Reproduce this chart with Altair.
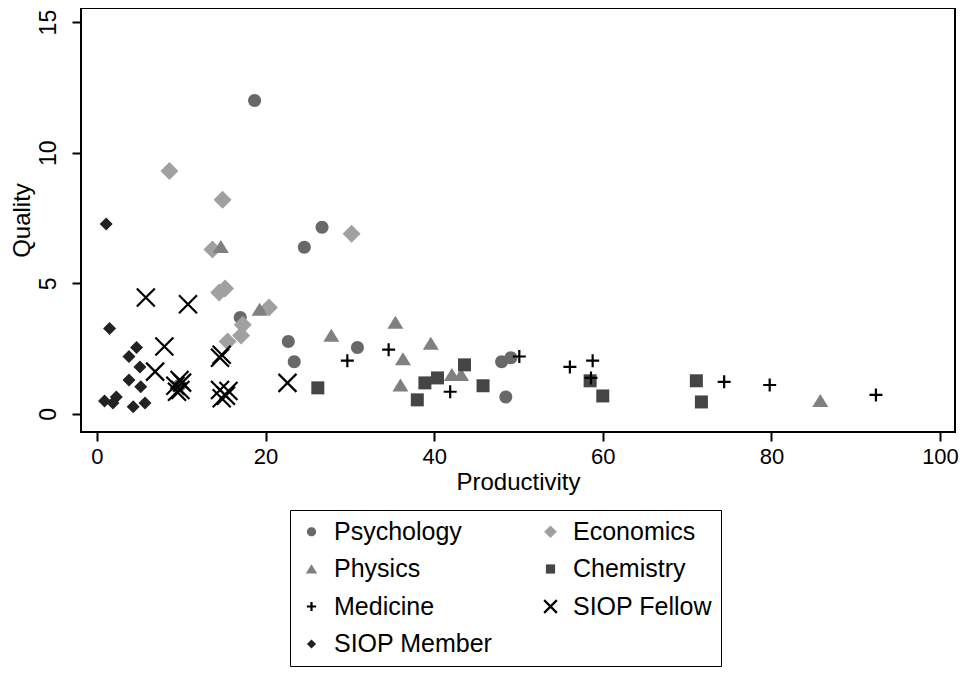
import altair as alt
import pandas as pd

groups = ["Psychology", "Economics", "Physics", "Chemistry", "Medicine", "SIOP Fellow", "SIOP Member"]
# legend is filled column by column: col 1 then col 2
legend_order = ["Psychology", "Physics", "Medicine", "SIOP Member", "Economics", "Chemistry", "SIOP Fellow"]

psych_x = [18.7, 26.7, 24.6, 17.0, 22.7, 23.4, 30.9, 48.0, 49.1, 48.5, 9.8]
psych_y = [12.0, 7.15, 6.38, 3.69, 2.77, 2.0, 2.54, 2.0, 2.15, 0.65, 1.1]

econ_x = [8.6, 14.9, 30.2, 13.7, 14.5, 15.2, 20.4, 17.3, 17.1, 15.5]
econ_y = [9.3, 8.2, 6.9, 6.3, 4.65, 4.8, 4.08, 3.42, 3.0, 2.77]

phys_x = [14.7, 19.3, 27.8, 35.4, 36.3, 39.6, 36.0, 42.1, 43.2, 85.8]
phys_y = [6.4, 4.0, 3.0, 3.5, 2.1, 2.7, 1.1, 1.5, 1.5, 0.5]

chem_x = [26.2, 38.0, 38.9, 40.4, 43.6, 45.8, 58.5, 60.0, 71.1, 71.7]
chem_y = [1.0, 0.54, 1.19, 1.38, 1.88, 1.08, 1.27, 0.69, 1.27, 0.46]

med_x = [29.7, 34.6, 41.9, 50.1, 56.1, 58.8, 58.6, 74.4, 79.8, 92.4]
med_y = [2.04, 2.46, 0.85, 2.2, 1.8, 2.04, 1.38, 1.23, 1.11, 0.73]

fellow_x = [5.8, 10.8, 8.0, 14.6, 14.8, 6.9, 9.8, 9.3, 9.9, 9.5, 10.1, 14.6, 15.6, 14.8, 15.3, 22.6]
fellow_y = [4.46, 4.2, 2.58, 2.15, 2.27, 1.62, 1.3, 1.08, 0.92, 0.85, 1.2, 0.92, 0.88, 0.6, 0.7, 1.19]

member_x = [1.1, 1.5, 4.7, 3.8, 5.1, 3.8, 5.2, 0.9, 2.3, 1.9, 4.3, 5.7]
member_y = [7.27, 3.27, 2.54, 2.2, 1.8, 1.3, 1.04, 0.5, 0.65, 0.42, 0.28, 0.42]

series = [
    ("Psychology", psych_x, psych_y),
    ("Economics", econ_x, econ_y),
    ("Physics", phys_x, phys_y),
    ("Chemistry", chem_x, chem_y),
    ("Medicine", med_x, med_y),
    ("SIOP Fellow", fellow_x, fellow_y),
    ("SIOP Member", member_x, member_y),
]

rows = []
for g, xs, ys in series:
    for x, y in zip(xs, ys):
        rows.append({"group": g, "Productivity": x, "Quality": y})
df = pd.DataFrame(rows)

shape_of = {
    "Psychology": "M-0.65,0A0.65,0.65,0,1,1,0.65,0A0.65,0.65,0,1,1,-0.65,0Z",
    "Economics": "M0,-0.9L0.9,0L0,0.9L-0.9,0Z",
    "Physics": "M0,-0.68L0.8,0.62L-0.8,0.62Z",
    "Chemistry": "M-0.65,-0.65H0.65V0.65H-0.65Z",
    "Medicine": "M-0.65,0H0.65M0,-0.65V0.65",
    "SIOP Fellow": "M-0.9,-0.9L0.9,0.9M-0.9,0.9L0.9,-0.9",
    "SIOP Member": "M0,-0.65L0.65,0L0,0.65L-0.65,0Z",
}
fill_of = {
    "Psychology": "#686868", "Economics": "#a0a0a0", "Physics": "#808080",
    "Chemistry": "#454545", "Medicine": "transparent", "SIOP Fellow": "transparent",
    "SIOP Member": "#222222",
}
stroke_of = {g: "transparent" for g in groups}
stroke_of["Medicine"] = "black"
stroke_of["SIOP Fellow"] = "black"

shapes = [shape_of[g] for g in legend_order]
fills = [fill_of[g] for g in legend_order]
strokes = [stroke_of[g] for g in legend_order]

FONT = "Liberation Sans"

legend = alt.Legend(
    title=None, orient="none", legendX=209, legendY=502, columns=2,
    labelFont=FONT, labelFontSize=25, labelColor="black",
    symbolSize=200, symbolStrokeWidth=2.2, labelOffset=10,
    rowPadding=11.5, columnPadding=45, padding=9,
    strokeColor="black", labelLimit=300,
)

chart = alt.Chart(df).mark_point(size=400, opacity=1, strokeWidth=2.2).encode(
    x=alt.X("Productivity:Q",
            scale=alt.Scale(domain=[-1.89, 101.78], nice=False, zero=False),
            axis=alt.Axis(values=[0, 20, 40, 60, 80, 100], title="Productivity",
                          labelPadding=5, titlePadding=3, labelFontSize=22)),
    y=alt.Y("Quality:Q",
            scale=alt.Scale(domain=[-0.69, 15.54], nice=False, zero=False),
            axis=alt.Axis(values=[0, 5, 10, 15], title="Quality", labelAngle=270,
                          labelAlign="center", labelBaseline="alphabetic",
                          labelPadding=17, titlePadding=3)),
    shape=alt.Shape("group:N", scale=alt.Scale(domain=legend_order, range=shapes), legend=legend),
    fill=alt.Fill("group:N", scale=alt.Scale(domain=legend_order, range=fills), legend=legend),
    stroke=alt.Stroke("group:N", scale=alt.Scale(domain=legend_order, range=strokes), legend=legend),
).properties(
    width=874, height=424,
    autosize=alt.AutoSizeParams(type="none"),
    padding={"left": 73, "top": 0, "right": 5, "bottom": 235},
).configure_view(
    stroke="black", strokeWidth=2
).configure_axis(
    domain=False, grid=False, tickColor="black", tickWidth=2, tickSize=9,
    labelFont=FONT, labelFontSize=23, labelColor="black",
    titleFont=FONT, titleFontSize=24, titleFontWeight="normal", titleColor="black",
)

chart.save("out.html", embed_options={"renderer": "svg", "actions": False})
